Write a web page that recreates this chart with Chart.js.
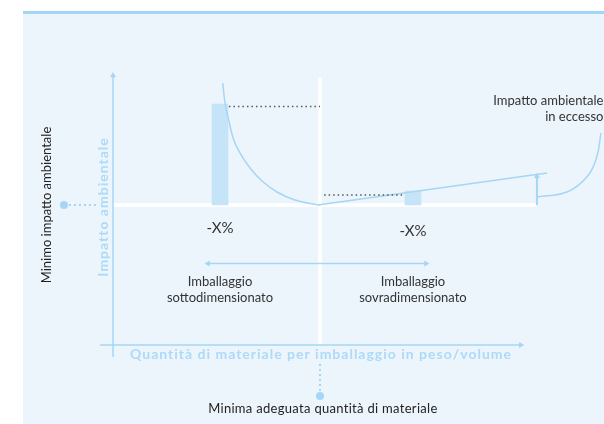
<!DOCTYPE html>
<html>
<head>
<meta charset="utf-8">
<script src="https://cdn.jsdelivr.net/npm/chart.js"></script>
<style>
html, body { margin: 0; padding: 0; background: #fff; }
</style>
</head>
<body>
<canvas id="grafico" width="604" height="424"></canvas>
<script>
"use strict"

// x = quantità di materiale (0 = origine, 100 = minima adeguata quantità)
// y = impatto ambientale (0 = origine, 100 = minimo impatto)
const curvaSottoX = [53.0, 54.1, 56.0, 58.0, 61.4, 66.2, 72.0, 79.2, 87.9, 99.0];
const curvaSottoY = [187.1, 172.9, 160.0, 147.9, 137.1, 126.4, 117.1, 109.3, 103.6, 100];
const rettaSovraX = [99.0, 209.7];
const rettaSovraY = [100, 122.9];

const barreX = [51.7, 144.9];
const barreTop = [172.1, 110];
const minimoImpatto = 100;
const minimaQuantita = 100;

const assiX = [-6.3, 197];
const assiY = [-8.6, 192.5];
const freccia2X = [45.9, 151.2];
const freccia2Y = 58.2;
const eccessoX = 204.8;
const eccessoY = [100, 120.5];
const arcoX = [204.8, 219.3, 228.9, 233.7, 235.7];
const arcoY = [105.7, 109.3, 120.0, 134.3, 151.4];
const tratteggio1X = [56.0, 100];
const tratteggio1Y = 170.4;
const tratteggio2X = [102.0, 141.0];
const tratteggio2Y = 107.1;
const puntoSinistraX = [-23.7, -7.7];
const puntoBassoY = [-36.4, -12.1];

const BLU = '#a5d6f5';
const BLU_TESTO = '#acdaf8';
const BARRA = '#c6e4f8';
const FONDO = '#edf5fc';

function punti(xs, ys) {
    return xs.map((x, i) => ({ x: x, y: Array.isArray(ys) ? ys[i] : ys }));
}

function linea(xs, ys, extra) {
    return Object.assign({
        type: 'line',
        data: punti(xs, ys),
        borderColor: BLU,
        borderWidth: 1.5,
        pointRadius: 0,
        fill: false,
        tension: 0,
        clip: false
    }, extra);
}

const etichette = [
    { testo: ['Impatto ambientale', 'in eccesso'], x: 236.9, y: 174.3, align: 'right', font: '13px Lato', colore: '#333' },
    { testo: ['-X%'], x: 51.7, y: 83.6, font: '15px Lato', colore: '#333' },
    { testo: ['-X%'], x: 144.9, y: 81.4, font: '15px Lato', colore: '#333' },
    { testo: ['Imballaggio', 'sottodimensionato'], x: 51.7, y: 45.0, font: '13px Lato', colore: '#333' },
    { testo: ['Imballaggio', 'sovradimensionato'], x: 144.9, y: 45.0, font: '13px Lato', colore: '#333' },
    { testo: ['Quantità di materiale per imballaggio in peso/volume'], x: 100.5, y: -7.1, font: 'bold 14px Lato', spazio: '1px', colore: BLU_TESTO },
    { testo: ['Minima adeguata quantità di materiale'], x: 101.4, y: -45.7, font: '13px Lato', spazio: '0.3px', colore: '#222' },
    { testo: ['Impatto ambientale'], x: -4.8, y: 98.6, ruota: true, font: 'bold 14px Lato', spazio: '1px', colore: BLU_TESTO },
    { testo: ['Minimo impatto ambientale'], x: -31.9, y: 100, ruota: true, font: '13px Lato', colore: '#222' }
];

const sfondo = {
    id: 'sfondo',
    beforeDraw(chart) {
        const ctx = chart.ctx;
        ctx.save();
        ctx.fillStyle = '#fff';
        ctx.fillRect(0, 0, chart.width, chart.height);
        ctx.fillStyle = FONDO;
        ctx.fillRect(23, 11, chart.width - 23, chart.height - 11);
        ctx.fillStyle = '#a3d5f4';
        ctx.fillRect(23, 11, chart.width - 23, 3);
        ctx.restore();
    }
};

const testi = {
    id: 'testi',
    afterDatasetsDraw(chart) {
        const ctx = chart.ctx;
        const sx = chart.scales.x;
        const sy = chart.scales.y;
        etichette.forEach(e => {
            ctx.save();
            ctx.font = e.font;
            ctx.fillStyle = e.colore;
            ctx.textAlign = e.align || 'center';
            ctx.textBaseline = 'middle';
            if (e.spazio) ctx.letterSpacing = e.spazio;
            ctx.translate(sx.getPixelForValue(e.x), sy.getPixelForValue(e.y));
            if (e.ruota) ctx.rotate(-Math.PI / 2);
            e.testo.forEach((riga, i) => ctx.fillText(riga, 0, i * 16));
            ctx.restore();
        });
    }
};

const datasets = [
    // assi
    linea([0, 0], assiY, {
        pointRadius: [0, 3.5], pointStyle: 'triangle', pointBackgroundColor: BLU, pointBorderWidth: 0
    }),
    linea(assiX, [0, 0], {
        pointRadius: [0, 3.5], pointStyle: 'triangle', pointRotation: 90, pointBackgroundColor: BLU, pointBorderWidth: 0
    }),
    // freccia doppia
    linea(freccia2X, freccia2Y, {
        pointRadius: 3.5, pointStyle: 'triangle', pointRotation: [-90, 90], pointBackgroundColor: BLU, pointBorderWidth: 0
    }),
    // impatto in eccesso
    linea([eccessoX, eccessoX], eccessoY, {
        borderWidth: 2, pointRadius: [0, 3.5], pointStyle: 'triangle', pointBackgroundColor: BLU, pointBorderWidth: 0
    }),
    linea(arcoX, arcoY, { tension: 0.4 }),
    // punti di riferimento
    linea(puntoSinistraX, minimoImpatto, {
        borderWidth: 2, borderDash: [2, 3], pointRadius: [4, 0], pointBackgroundColor: BLU, pointBorderWidth: 0
    }),
    linea([minimaQuantita, minimaQuantita], puntoBassoY, {
        borderWidth: 2, borderDash: [2, 3], pointRadius: [4, 0], pointBackgroundColor: BLU, pointBorderWidth: 0
    }),
    // tratteggi
    linea(tratteggio1X, tratteggio1Y, { borderColor: '#555', borderWidth: 1.5, borderDash: [1.5, 3] }),
    linea(tratteggio2X, tratteggio2Y, { borderColor: '#555', borderWidth: 1.5, borderDash: [1.5, 3] }),
    // curva
    linea(curvaSottoX, curvaSottoY, { cubicInterpolationMode: 'monotone' }),
    linea(rettaSovraX, rettaSovraY, {}),
    // barre
    {
        type: 'bar',
        data: barreX.map((x, i) => ({ x: x, y: [minimoImpatto, barreTop[i]] })),
        backgroundColor: BARRA,
        barThickness: 16,
        grouped: false,
        borderWidth: 0
    },
    // linee bianche
    linea([0, 204.3], minimoImpatto, { borderColor: '#fff', borderWidth: 3.5 }),
    linea([minimaQuantita, minimaQuantita], [0, 191], { borderColor: '#fff', borderWidth: 3.5 })
];

const config = {
    type: 'line',
    data: { datasets: datasets },
    options: {
        responsive: false,
        animation: false,
        events: [],
        layout: { padding: 0, autoPadding: false },
        plugins: {
            legend: { display: false },
            tooltip: { enabled: false }
        },
        scales: {
            x: { type: 'linear', min: -113 / 2.07, max: 491 / 2.07, offset: false, display: false },
            y: { type: 'linear', min: -79 / 1.4, max: 345 / 1.4, display: false }
        }
    },
    plugins: [sfondo, testi]
};

const chart = new Chart(document.getElementById('grafico').getContext('2d'), config);
</script>
</body>
</html>
